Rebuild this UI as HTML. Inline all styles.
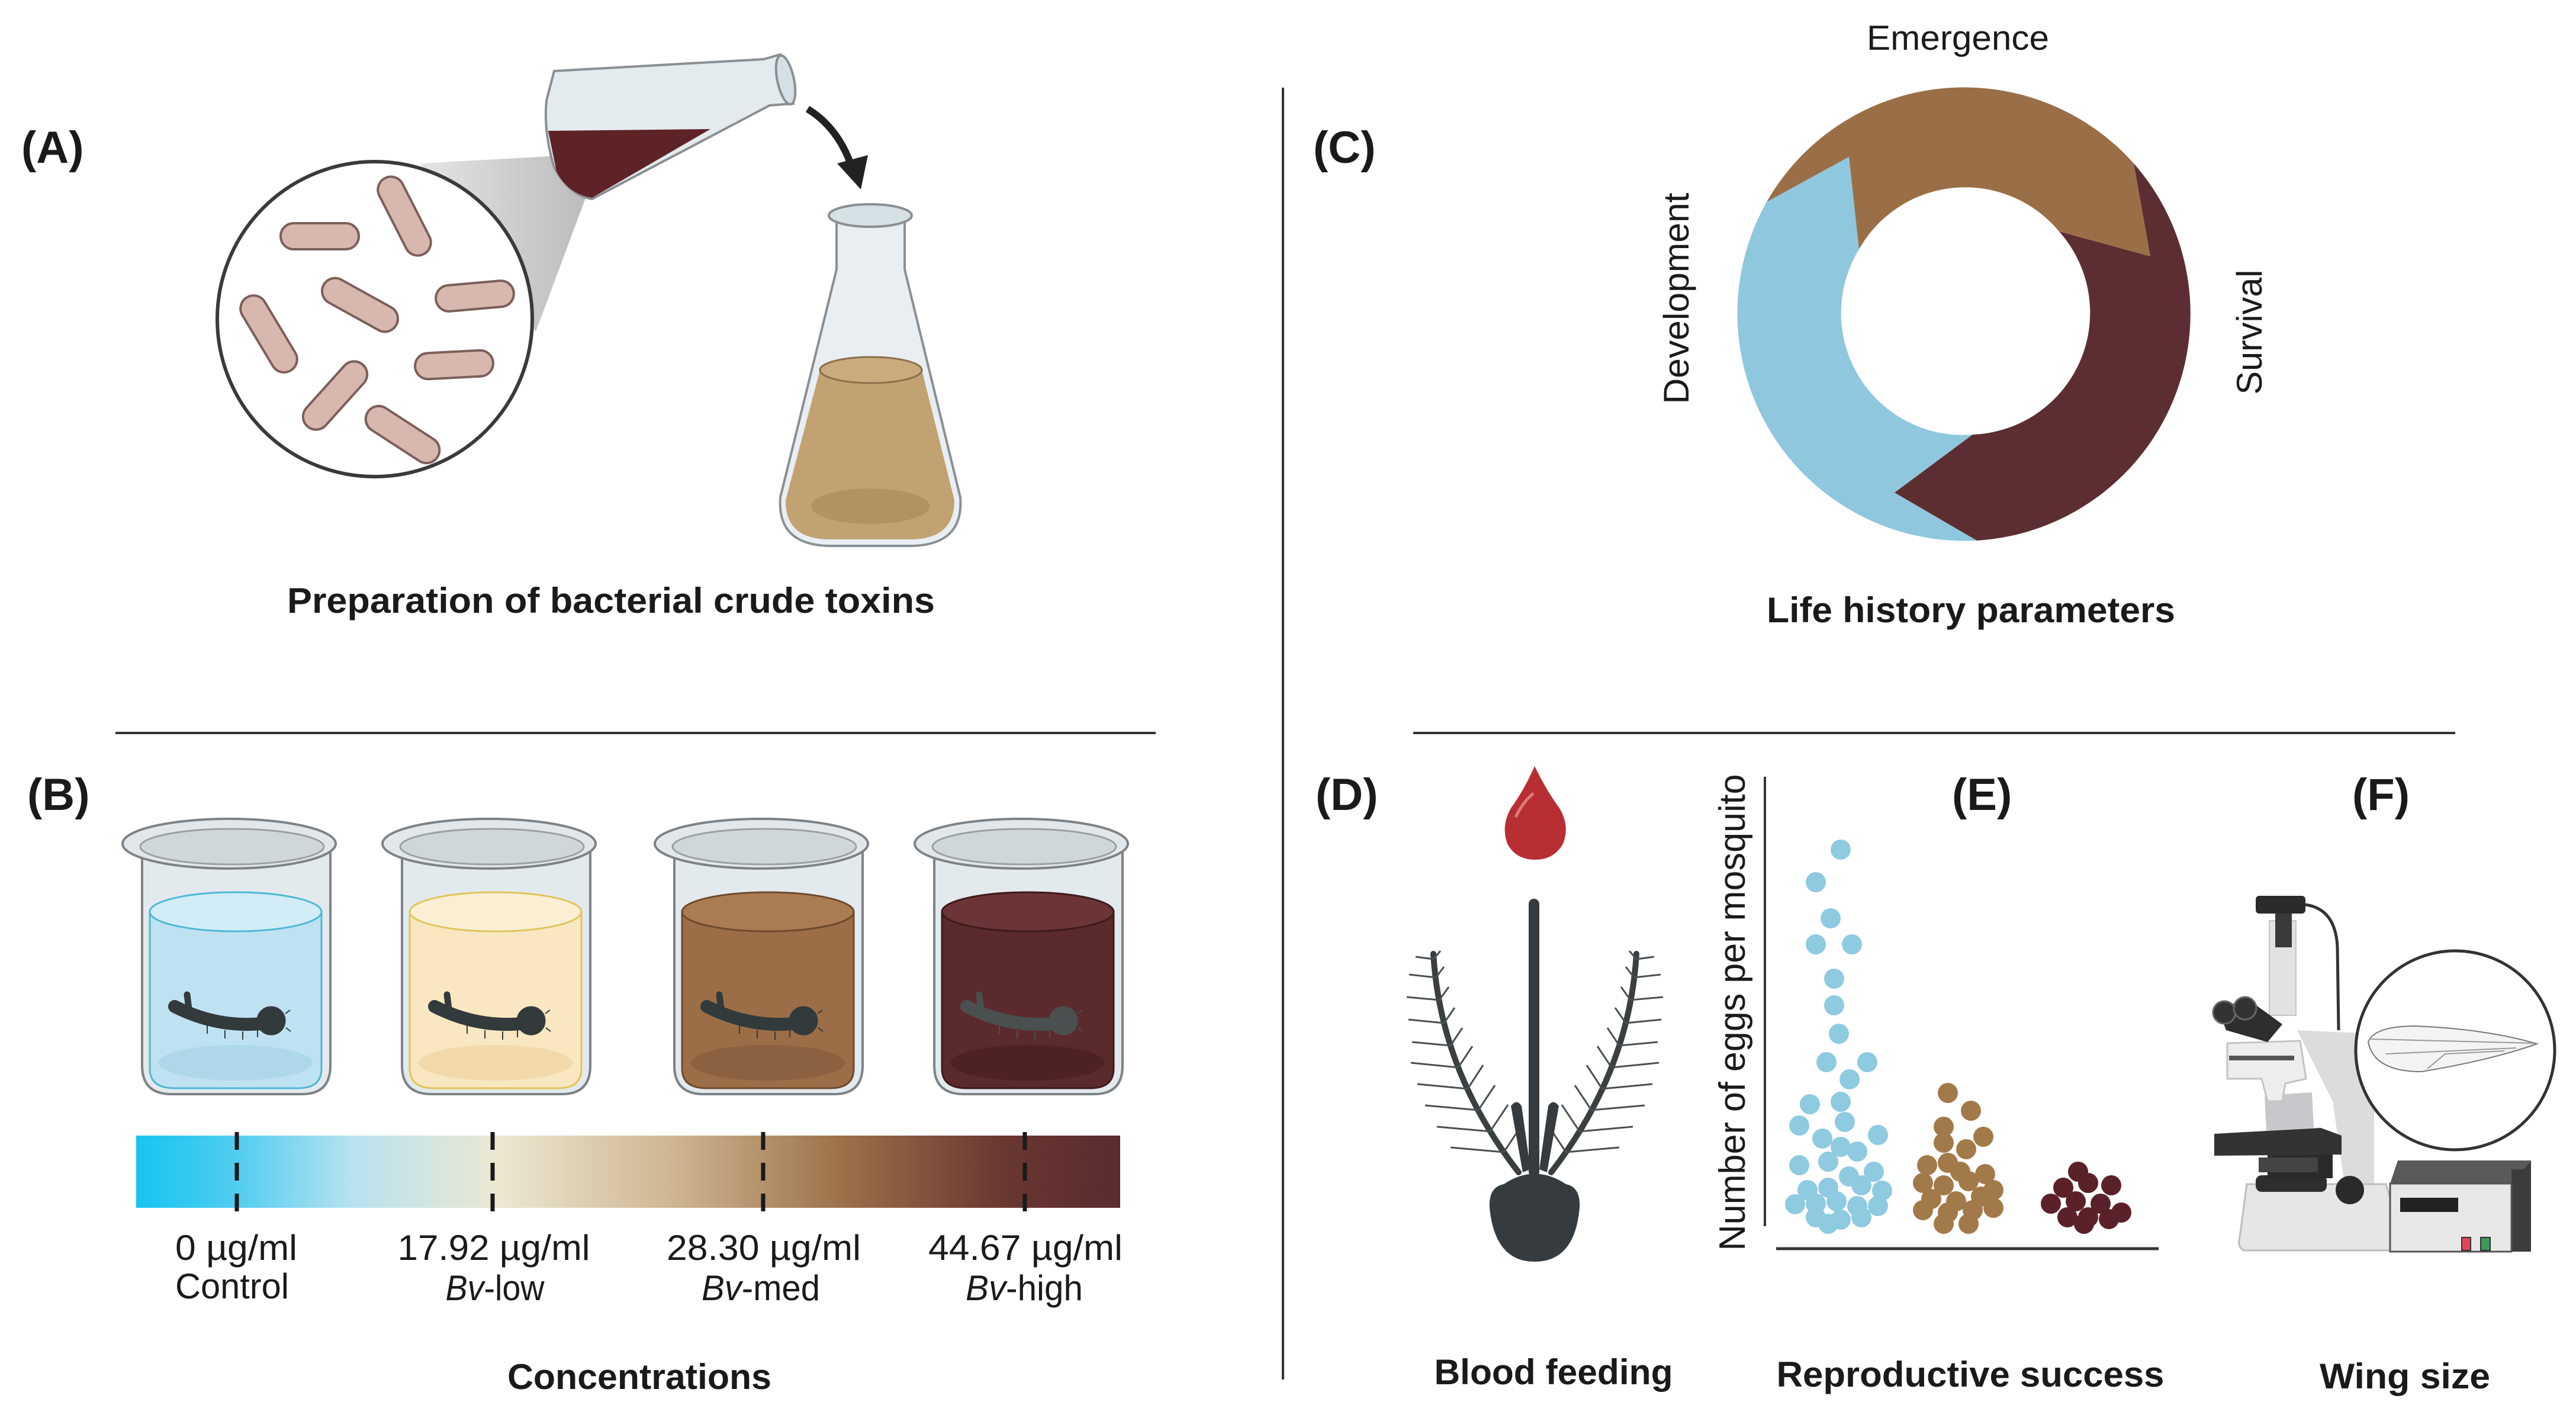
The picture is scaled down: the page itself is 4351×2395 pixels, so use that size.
<!DOCTYPE html>
<html><head><meta charset="utf-8"><style>
html,body{margin:0;padding:0;background:#fff;}
svg{display:block;}
text{font-family:"Liberation Sans",sans-serif;fill:#1a1a1a;}
.b{font-weight:bold;}
</style></head><body>
<svg width="4351" height="2395" viewBox="0 0 4351 2395" xmlns="http://www.w3.org/2000/svg">
<defs>
<linearGradient id="grad" x1="0" x2="1" y1="0" y2="0">
<stop offset="0" stop-color="#16c4f0"/><stop offset="0.1" stop-color="#4fcdf0"/>
<stop offset="0.22" stop-color="#b8e2ef"/><stop offset="0.37" stop-color="#ece8d2"/>
<stop offset="0.55" stop-color="#cdb48f"/><stop offset="0.72" stop-color="#9b7048"/>
<stop offset="0.88" stop-color="#6a3731"/><stop offset="1" stop-color="#5a2b2e"/>
</linearGradient>
<linearGradient id="cone" x1="0" x2="1" y1="0" y2="0">
<stop offset="0" stop-color="#e4e4e4"/><stop offset="1" stop-color="#b8b8b8"/>
</linearGradient>
<g id="larva">
<path d="M95,1700 Q170,1738 250,1728" fill="none" stroke-width="22" stroke-linecap="round"/>
<path d="M120,1712 L116,1680" fill="none" stroke-width="11" stroke-linecap="round"/>
<circle cx="258" cy="1724" r="24"/>
<path d="M150,1732 l0,14 M180,1740 l0,14 M210,1742 l0,14 M235,1738 l0,14 M282,1712 l8,-6 M283,1736 l8,6" fill="none" stroke-width="2"/>
</g>
</defs>

<line x1="2167" y1="148" x2="2167" y2="2330" stroke="#333" stroke-width="4"/>
<line x1="195" y1="1238" x2="1952" y2="1238" stroke="#333" stroke-width="4"/>
<line x1="2387" y1="1238" x2="4147" y2="1238" stroke="#333" stroke-width="4"/>

<!-- ===== A ===== -->
<text x="36" y="275" class="b" font-size="76">(A)</text>
<polygon points="710,276 1020,259 987,340 905,560" fill="url(#cone)"/>
<circle cx="633" cy="539" r="266" fill="#fff" stroke="#3a3a3a" stroke-width="6"/>
<g fill="#d8b7ae" stroke="#7c5f5a" stroke-width="4">
<rect x="-66" y="-22" width="132" height="44" rx="22" transform="translate(540,399)"/>
<rect x="-72" y="-22" width="144" height="44" rx="22" transform="translate(683,365) rotate(63)"/>
<rect x="-66" y="-22" width="132" height="44" rx="22" transform="translate(802,500) rotate(-5)"/>
<rect x="-70" y="-22" width="140" height="44" rx="22" transform="translate(608,515) rotate(29)"/>
<rect x="-72" y="-22" width="144" height="44" rx="22" transform="translate(454,564) rotate(59)"/>
<rect x="-66" y="-22" width="132" height="44" rx="22" transform="translate(767,616) rotate(-3)"/>
<rect x="-70" y="-22" width="140" height="44" rx="22" transform="translate(566,668) rotate(-48)"/>
<rect x="-70" y="-22" width="140" height="44" rx="22" transform="translate(680,734) rotate(33)"/>
</g>
<path d="M936,120 L1290,100 L1318,92 L1340,175 L1300,178 L1000,336 Q960,330 935,280 Q918,220 923,170 Z" fill="#e3ebef" stroke="#8a8f93" stroke-width="4"/>
<path d="M926,221 L1200,218 L1000,334 Q960,328 940,290 Z" fill="#5e2327"/>
<ellipse cx="1327" cy="135" rx="14" ry="42" transform="rotate(-12 1327 135)" fill="#d5e0e5" stroke="#8a8f93" stroke-width="4"/>
<path d="M1364,184 Q1415,215 1438,280" fill="none" stroke="#222" stroke-width="12"/>
<polygon points="1414,276 1466,262 1454,320" fill="#222"/>
<path d="M1413,372 L1413,455 L1318,840 Q1312,920 1400,922 L1540,922 Q1628,920 1622,840 L1528,455 L1528,372 Z" fill="#e8eef1" stroke="#8a8f93" stroke-width="4"/>
<path d="M1385,625 L1557,625 L1612,845 Q1612,910 1540,911 L1400,911 Q1326,910 1327,845 Z" fill="#c2a273"/>
<ellipse cx="1471" cy="625" rx="86" ry="22" fill="#c9ab7e" stroke="#8a6f49" stroke-width="3"/>
<ellipse cx="1470" cy="855" rx="100" ry="30" fill="#b19263"/>
<ellipse cx="1470" cy="364" rx="70" ry="19" fill="#d6e1e6" stroke="#8a8f93" stroke-width="4"/>
<text x="1032" y="1035" class="b" font-size="60" text-anchor="middle" textLength="1094" lengthAdjust="spacingAndGlyphs">Preparation of bacterial crude toxins</text>

<!-- ===== B ===== -->
<text x="46" y="1368" class="b" font-size="76">(B)</text>
<g transform="translate(200,0)">
<path d="M40,1440 L40,1800 Q40,1848 90,1848 L310,1848 Q358,1848 358,1800 L358,1440 Z" fill="#e3eaee" stroke="#7d8286" stroke-width="4"/>
<path d="M53,1540 L53,1805 Q53,1838 95,1838 L303,1838 Q343,1838 343,1805 L343,1540 Z" fill="#bfe2f2" stroke="#4fb8d6" stroke-width="3"/>
<ellipse cx="198" cy="1540" rx="145" ry="33" fill="#d2edf8" stroke="#4fb8d6" stroke-width="3"/>
<ellipse cx="198" cy="1795" rx="130" ry="30" fill="#aed8ea"/>
<ellipse cx="187" cy="1425" rx="180" ry="42" fill="#e1e7ea" stroke="#7d8286" stroke-width="4"/>
<ellipse cx="192" cy="1430" rx="155" ry="30" fill="#cfd7db" stroke="#9aa0a4" stroke-width="3"/>
<use href="#larva" fill="#333a3c" stroke="#333a3c"/>
</g>
<g transform="translate(639,0)">
<path d="M40,1440 L40,1800 Q40,1848 90,1848 L310,1848 Q358,1848 358,1800 L358,1440 Z" fill="#e3eaee" stroke="#7d8286" stroke-width="4"/>
<path d="M53,1540 L53,1805 Q53,1838 95,1838 L303,1838 Q343,1838 343,1805 L343,1540 Z" fill="#f8e7c0" stroke="#e2c45a" stroke-width="3"/>
<ellipse cx="198" cy="1540" rx="145" ry="33" fill="#faefd3" stroke="#e2c45a" stroke-width="3"/>
<ellipse cx="198" cy="1795" rx="130" ry="30" fill="#f2d9a9"/>
<ellipse cx="187" cy="1425" rx="180" ry="42" fill="#e1e7ea" stroke="#7d8286" stroke-width="4"/>
<ellipse cx="192" cy="1430" rx="155" ry="30" fill="#cfd7db" stroke="#9aa0a4" stroke-width="3"/>
<use href="#larva" fill="#333a3c" stroke="#333a3c"/>
</g>
<g transform="translate(1099,0)">
<path d="M40,1440 L40,1800 Q40,1848 90,1848 L310,1848 Q358,1848 358,1800 L358,1440 Z" fill="#e3eaee" stroke="#7d8286" stroke-width="4"/>
<path d="M53,1540 L53,1805 Q53,1838 95,1838 L303,1838 Q343,1838 343,1805 L343,1540 Z" fill="#9b6e47" stroke="#6e4a2c" stroke-width="3"/>
<ellipse cx="198" cy="1540" rx="145" ry="33" fill="#a97c54" stroke="#6e4a2c" stroke-width="3"/>
<ellipse cx="198" cy="1795" rx="130" ry="30" fill="#8c6140"/>
<ellipse cx="187" cy="1425" rx="180" ry="42" fill="#e1e7ea" stroke="#7d8286" stroke-width="4"/>
<ellipse cx="192" cy="1430" rx="155" ry="30" fill="#cfd7db" stroke="#9aa0a4" stroke-width="3"/>
<use href="#larva" fill="#333a3c" stroke="#333a3c"/>
</g>
<g transform="translate(1538,0)">
<path d="M40,1440 L40,1800 Q40,1848 90,1848 L310,1848 Q358,1848 358,1800 L358,1440 Z" fill="#e3eaee" stroke="#7d8286" stroke-width="4"/>
<path d="M53,1540 L53,1805 Q53,1838 95,1838 L303,1838 Q343,1838 343,1805 L343,1540 Z" fill="#5b2a2d" stroke="#3e1a1c" stroke-width="3"/>
<ellipse cx="198" cy="1540" rx="145" ry="33" fill="#6b3437" stroke="#3e1a1c" stroke-width="3"/>
<ellipse cx="198" cy="1795" rx="130" ry="30" fill="#4e2124"/>
<ellipse cx="187" cy="1425" rx="180" ry="42" fill="#e1e7ea" stroke="#7d8286" stroke-width="4"/>
<ellipse cx="192" cy="1430" rx="155" ry="30" fill="#cfd7db" stroke="#9aa0a4" stroke-width="3"/>
<use href="#larva" fill="#4a4f50" stroke="#4a4f50"/>
</g>
<rect x="230" y="1918" width="1662" height="122" fill="url(#grad)"/>
<g stroke="#1a1a1a" stroke-width="7" stroke-dasharray="30,22">
<line x1="400" y1="1912" x2="400" y2="2046"/><line x1="832" y1="1912" x2="832" y2="2046"/>
<line x1="1289" y1="1912" x2="1289" y2="2046"/><line x1="1731" y1="1912" x2="1731" y2="2046"/>
</g>
<g font-size="60">
<text x="296" y="2128" textLength="206" lengthAdjust="spacingAndGlyphs">0 µg/ml</text>
<text x="296" y="2193" textLength="192" lengthAdjust="spacingAndGlyphs">Control</text>
<text x="834" y="2128" text-anchor="middle" textLength="325" lengthAdjust="spacingAndGlyphs">17.92 µg/ml</text>
<text x="836" y="2196" text-anchor="middle" textLength="167" lengthAdjust="spacingAndGlyphs"><tspan font-style="italic">Bv</tspan>-low</text>
<text x="1290" y="2128" text-anchor="middle" textLength="328" lengthAdjust="spacingAndGlyphs">28.30 µg/ml</text>
<text x="1285" y="2196" text-anchor="middle" textLength="200" lengthAdjust="spacingAndGlyphs"><tspan font-style="italic">Bv</tspan>-med</text>
<text x="1732" y="2128" text-anchor="middle" textLength="328" lengthAdjust="spacingAndGlyphs">44.67 µg/ml</text>
<text x="1730" y="2196" text-anchor="middle" textLength="198" lengthAdjust="spacingAndGlyphs"><tspan font-style="italic">Bv</tspan>-high</text>
</g>
<text x="1080" y="2346" class="b" font-size="60" text-anchor="middle" textLength="446" lengthAdjust="spacingAndGlyphs">Concentrations</text>

<!-- ===== C ===== -->
<text x="2218" y="275" class="b" font-size="76">(C)</text>
<path d="M3339,913 A384,384 0 0 1 2984,341 L3123,265 L3140,421 A206,206 0 0 0 3332,734 L3200,832 Z" fill="#8fc7de"/>
<path d="M2984,341 A384,384 0 0 1 3604,276 L3632,433 L3478,391 A206,206 0 0 0 3140,421 L3123,265 Z" fill="#9a6f47"/>
<path d="M3604,276 A384,384 0 0 1 3339,913 L3200,832 L3332,734 A206,206 0 0 0 3478,391 L3632,433 Z" fill="#5c2e31"/>
<text x="3307" y="84" font-size="58" text-anchor="middle" textLength="308" lengthAdjust="spacingAndGlyphs">Emergence</text>
<text transform="translate(2852,504) rotate(-90)" font-size="60" text-anchor="middle" textLength="357" lengthAdjust="spacingAndGlyphs">Development</text>
<text transform="translate(3820,561) rotate(-90)" font-size="60" text-anchor="middle" textLength="211" lengthAdjust="spacingAndGlyphs">Survival</text>
<text x="3329" y="1051" class="b" font-size="60" text-anchor="middle" textLength="690" lengthAdjust="spacingAndGlyphs">Life history parameters</text>

<!-- ===== D ===== -->
<text x="2222" y="1368" class="b" font-size="76">(D)</text>
<path d="M2592,1294 Q2612,1335 2634,1365 Q2652,1395 2640,1425 Q2625,1452 2593,1452 Q2560,1452 2546,1425 Q2535,1395 2552,1365 Q2574,1335 2592,1294 Z" fill="#b82f33"/>
<path d="M2560,1380 Q2572,1355 2590,1340" fill="none" stroke="#e07a7c" stroke-width="5"/>
<g fill="none" stroke="#3a3f42" stroke-width="10" stroke-linecap="round">
<path d="M2565,1980 Q2433,1810 2421,1611"/>
<path d="M2620,1980 Q2752,1810 2764,1611"/>
</g>
<g fill="none" stroke="#4a4f52" stroke-width="3">
<path d="M2540,1946 l-90,-8 M2540,1946 l30,-45 M2517,1911 l-90,-8 M2517,1911 l30,-45 M2497,1875 l-90,-8 M2497,1875 l28,-42 M2479,1839 l-85,-8 M2479,1839 l26,-40 M2463,1803 l-80,-8 M2463,1803 l24,-36 M2450,1766 l-65,-6 M2450,1766 l20,-30 M2439,1728 l-60,-6 M2439,1728 l18,-26 M2431,1689 l-55,-5 M2431,1689 l16,-22 M2425,1651 l-45,-5 M2425,1651 l14,-18 M2421,1620 l-30,-4 M2421,1620 l12,-14"/>
<path d="M2645,1946 l90,-8 M2645,1946 l-30,-45 M2668,1911 l90,-8 M2668,1911 l-30,-45 M2688,1875 l90,-8 M2688,1875 l-28,-42 M2706,1839 l85,-8 M2706,1839 l-26,-40 M2722,1803 l80,-8 M2722,1803 l-24,-36 M2735,1766 l65,-6 M2735,1766 l-20,-30 M2746,1728 l60,-6 M2746,1728 l-18,-26 M2754,1689 l55,-5 M2754,1689 l-16,-22 M2760,1651 l45,-5 M2760,1651 l-14,-18 M2764,1620 l30,-4 M2764,1620 l-12,-14"/>
</g>
<rect x="2582" y="1518" width="18" height="470" rx="9" fill="#353b3e"/>
<path d="M2552,1868 Q2562,1855 2570,1868 L2585,1975 L2572,1980 Z" fill="#353b3e"/>
<path d="M2633,1868 Q2623,1855 2615,1868 L2600,1975 L2613,1980 Z" fill="#353b3e"/>
<path d="M2540,2000 Q2592,1965 2645,2000 Q2670,2005 2668,2040 Q2660,2131 2592,2131 Q2525,2131 2516,2040 Q2514,2005 2540,2000 Z" fill="#353b3e"/>

<!-- ===== E ===== -->
<text x="3297" y="1368" class="b" font-size="76">(E)</text>
<line x1="2981" y1="1312" x2="2981" y2="2071" stroke="#333" stroke-width="4"/>
<line x1="3000" y1="2109" x2="3646" y2="2109" stroke="#333" stroke-width="5"/>
<text transform="translate(2947,1710) rotate(-90)" font-size="62" text-anchor="middle" textLength="805" lengthAdjust="spacingAndGlyphs">Number of eggs per mosquito</text>
<g fill="#8ecae0">
<circle cx="3109" cy="1435" r="17"/><circle cx="3067" cy="1490" r="17"/><circle cx="3092" cy="1551" r="17"/><circle cx="3067" cy="1595" r="17"/><circle cx="3128" cy="1595" r="17"/><circle cx="3098" cy="1653" r="17"/><circle cx="3098" cy="1698" r="17"/><circle cx="3106" cy="1746" r="17"/><circle cx="3085" cy="1794" r="17"/><circle cx="3154" cy="1794" r="17"/><circle cx="3124" cy="1823" r="17"/><circle cx="3057" cy="1865" r="17"/><circle cx="3109" cy="1861" r="17"/><circle cx="3039" cy="1901" r="17"/><circle cx="3116" cy="1895" r="17"/><circle cx="3172" cy="1917" r="17"/><circle cx="3078" cy="1923" r="17"/><circle cx="3109" cy="1937" r="17"/><circle cx="3137" cy="1945" r="17"/><circle cx="3039" cy="1968" r="17"/><circle cx="3088" cy="1962" r="17"/><circle cx="3165" cy="1979" r="17"/><circle cx="3123" cy="1987" r="17"/><circle cx="3053" cy="2010" r="17"/><circle cx="3088" cy="2006" r="17"/><circle cx="3179" cy="2011" r="17"/><circle cx="3144" cy="2002" r="17"/><circle cx="3032" cy="2034" r="17"/><circle cx="3067" cy="2033" r="17"/><circle cx="3102" cy="2029" r="17"/><circle cx="3137" cy="2037" r="17"/><circle cx="3172" cy="2037" r="17"/><circle cx="3067" cy="2056" r="17"/><circle cx="3109" cy="2060" r="17"/><circle cx="3144" cy="2056" r="17"/><circle cx="3088" cy="2067" r="17"/>
</g>
<g fill="#a27a4a">
<circle cx="3290" cy="1846" r="17"/><circle cx="3329" cy="1876" r="17"/><circle cx="3283" cy="1903" r="17"/><circle cx="3350" cy="1920" r="17"/><circle cx="3283" cy="1930" r="17"/><circle cx="3321" cy="1941" r="17"/><circle cx="3255" cy="1968" r="17"/><circle cx="3290" cy="1964" r="17"/><circle cx="3353" cy="1983" r="17"/><circle cx="3311" cy="1979" r="17"/><circle cx="3248" cy="1998" r="17"/><circle cx="3283" cy="2002" r="17"/><circle cx="3325" cy="1995" r="17"/><circle cx="3367" cy="2010" r="17"/><circle cx="3262" cy="2025" r="17"/><circle cx="3304" cy="2029" r="17"/><circle cx="3346" cy="2021" r="17"/><circle cx="3248" cy="2044" r="17"/><circle cx="3290" cy="2048" r="17"/><circle cx="3332" cy="2044" r="17"/><circle cx="3367" cy="2040" r="17"/><circle cx="3283" cy="2067" r="17"/><circle cx="3325" cy="2067" r="17"/>
</g>
<g fill="#5a2228">
<circle cx="3510" cy="1979" r="17"/><circle cx="3485" cy="2006" r="17"/><circle cx="3527" cy="1998" r="17"/><circle cx="3566" cy="2002" r="17"/><circle cx="3464" cy="2033" r="17"/><circle cx="3506" cy="2029" r="17"/><circle cx="3548" cy="2033" r="17"/><circle cx="3492" cy="2056" r="17"/><circle cx="3527" cy="2056" r="17"/><circle cx="3583" cy="2048" r="17"/><circle cx="3562" cy="2059" r="17"/><circle cx="3520" cy="2067" r="17"/>
</g>

<!-- ===== F ===== -->
<text x="3973" y="1368" class="b" font-size="76">(F)</text>
<path d="M3894,1528 Q3945,1535 3948,1600 L3950,1740" fill="none" stroke="#333" stroke-width="5"/>
<path d="M3880,1740 L3990,1745 L4010,1860 L4010,2000 L3960,2000 L3940,1860 Z" fill="#dcdcdc"/>
<path d="M3795,2000 L4030,2000 L4060,2100 Q4050,2112 4030,2112 L3790,2112 Q3778,2105 3783,2090 Z" fill="#e6e6e6" stroke="#bdbdbd" stroke-width="3"/>
<rect x="3810" y="1985" width="120" height="28" rx="10" fill="#2e2e2e"/>
<rect x="3830" y="1950" width="110" height="40" fill="#2a2a2a"/>
<circle cx="3969" cy="2010" r="24" fill="#2a2a2a"/>
<path d="M3740,1915 L3920,1905 L3955,1918 L3955,1950 L3740,1952 Z" fill="#333"/>
<rect x="3815" y="1955" width="100" height="25" fill="#444"/>
<path d="M3825,1850 L3905,1845 L3908,1905 L3828,1910 Z" fill="#c8c8cc"/>
<path d="M3762,1762 L3885,1758 L3895,1822 L3860,1830 L3855,1860 L3830,1860 L3820,1822 L3762,1822 Z" fill="#ededed" stroke="#c4c4c4" stroke-width="3"/>
<rect x="3765" y="1783" width="110" height="8" fill="#555"/>
<rect x="3833" y="1555" width="45" height="160" fill="#e2e2e2" stroke="#c4c4c4" stroke-width="2"/>
<rect x="3843" y="1540" width="28" height="60" fill="#3a3a3a"/>
<rect x="3810" y="1513" width="84" height="30" rx="6" fill="#2b2b2b"/>
<path d="M3745,1700 L3800,1690 L3855,1730 L3830,1760 L3760,1740 Z" fill="#2e2e2e"/>
<circle cx="3757" cy="1710" r="19" fill="#333" stroke="#666" stroke-width="3"/>
<circle cx="3792" cy="1703" r="19" fill="#333" stroke="#666" stroke-width="3"/>
<circle cx="4147" cy="1774" r="168" fill="#fff" stroke="#333" stroke-width="5"/>
<path d="M4000,1760 Q4010,1733 4080,1733 Q4200,1738 4285,1763 Q4210,1790 4090,1810 Q4010,1810 4000,1760 Z" fill="#f4f4f4" stroke="#777" stroke-width="2"/>
<path d="M4005,1755 L4280,1762 M4030,1780 L4250,1770 M4100,1805 L4130,1780 L4230,1775" fill="none" stroke="#999" stroke-width="2"/>
<path d="M4050,1960 L4275,1960 L4242,1999 L4037,1999 Z" fill="#5a5a5a"/>
<rect x="4242" y="1975" width="33" height="139" fill="#3c3c3c"/>
<path d="M4242,1999 L4275,1960 L4275,1985 Z" fill="#3c3c3c"/>
<rect x="4037" y="1999" width="205" height="115" fill="#e8e8e8" stroke="#555" stroke-width="3"/>
<rect x="4054" y="2023" width="98" height="24" fill="#222"/>
<rect x="4158" y="2090" width="15" height="22" fill="#e0455a" stroke="#333" stroke-width="2"/>
<rect x="4190" y="2090" width="16" height="22" fill="#3d9a5a" stroke="#333" stroke-width="2"/>

<text x="2624" y="2338" class="b" font-size="60" text-anchor="middle" textLength="403" lengthAdjust="spacingAndGlyphs">Blood feeding</text>
<text x="3328" y="2342" class="b" font-size="60" text-anchor="middle" textLength="655" lengthAdjust="spacingAndGlyphs">Reproductive success</text>
<text x="4062" y="2345" class="b" font-size="60" text-anchor="middle" textLength="288" lengthAdjust="spacingAndGlyphs">Wing size</text>
</svg>
</body></html>
